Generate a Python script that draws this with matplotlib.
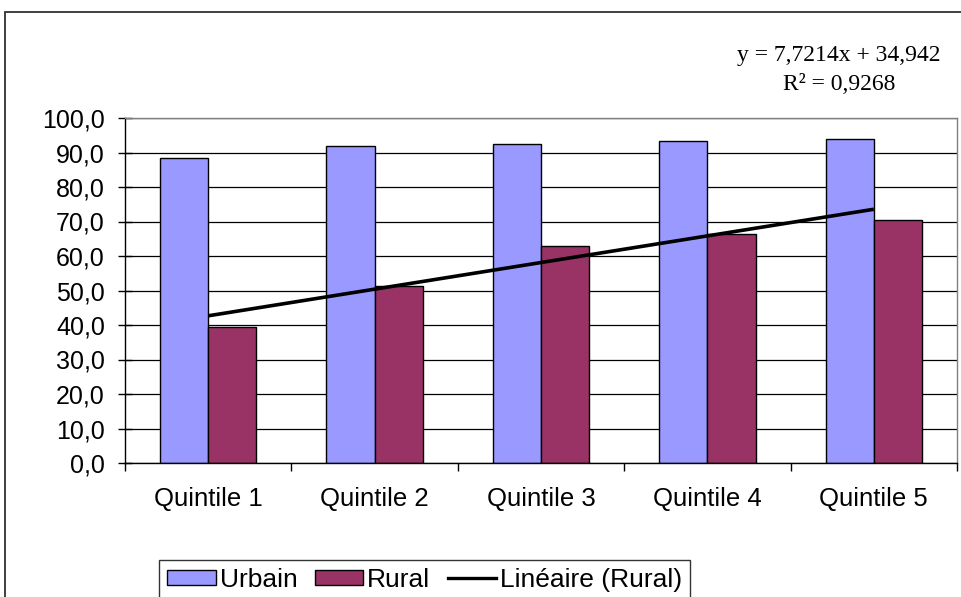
import matplotlib
matplotlib.use("Agg")
import matplotlib.pyplot as plt
import numpy as np
from matplotlib.patches import Rectangle, Patch
from matplotlib.lines import Line2D
from matplotlib.ticker import FuncFormatter, FixedLocator

categories = ["Quintile 1", "Quintile 2", "Quintile 3", "Quintile 4", "Quintile 5"]
urbain = [88.4, 91.8, 92.4, 93.4, 94.0]
rural = [39.5, 51.3, 63.0, 66.4, 70.5]
trend_slope = 7.7214
trend_intercept = 34.942
r_squared = "0,9268"
yticks = [0, 10, 20, 30, 40, 50, 60, 70, 80, 90, 100]

plt.rcParams['font.family'] = ['Liberation Sans', 'DejaVu Sans']

W, H = 961, 597
fig = plt.figure(figsize=(W / 100, H / 100), dpi=100)
ax = fig.add_axes([125 / W, 1 - 463 / H, (957 - 125) / W, (463 - 118) / H])

x = np.arange(len(categories))
bw = 0.29
ax.bar(x - bw / 2, urbain, width=bw, color='#9999FF', edgecolor='black', linewidth=1.0, zorder=2, label='Urbain')
ax.bar(x + bw / 2, rural, width=bw, color='#993366', edgecolor='black', linewidth=1.0, zorder=2, label='Rural')

xt = np.array([x[0], x[-1]])
yt = trend_intercept + trend_slope * (xt + 1)
ax.plot(xt, yt, color='black', linewidth=2.6, zorder=3, solid_capstyle='butt')

ax.set_xlim(-0.5, len(categories) - 0.5)
ax.set_ylim(0, 100)
ax.set_yticks(yticks)
ax.yaxis.set_major_formatter(FuncFormatter(lambda v, p: f"{v:.1f}".replace('.', ',')))
ax.grid(axis='y', color='black', linewidth=0.9, zorder=0)
ax.set_axisbelow(True)

ax.xaxis.set_major_locator(FixedLocator(np.arange(-0.5, len(categories), 1.0)))
ax.xaxis.set_minor_locator(FixedLocator(x))
ax.set_xticklabels([], minor=False)
ax.set_xticklabels(categories, minor=True)
ax.tick_params(axis='x', which='major', direction='out', length=5.5, width=1.0, color='black')
ax.tick_params(axis='x', which='minor', length=0, pad=17, labelsize=18.5)
ax.tick_params(axis='y', which='major', direction='inout', length=10, width=1.0, pad=9.5, labelsize=18)

for s in ['top', 'right']:
    ax.spines[s].set_color('#808080')
    ax.spines[s].set_linewidth(1.0)
for s in ['left', 'bottom']:
    ax.spines[s].set_color('black')
    ax.spines[s].set_linewidth(1.0)

# outer chart frame (cut off at right and bottom)
top = 1 - 12 / H
fig.patches.append(Rectangle((5 / W, -0.2), 1.2, top + 0.2, transform=fig.transFigure,
                             fill=False, edgecolor='#303030', linewidth=1.3))

fig.text(839 / W, 1 - 56 / H, f"y = {trend_slope:.4f}x + {trend_intercept:.3f}".replace('.', ','),
         ha='center', va='center', fontsize=17, family=['Liberation Serif', 'DejaVu Serif'])
fig.text(839 / W, 1 - 85 / H, f"R² = {r_squared}",
         ha='center', va='center', fontsize=17, family=['Liberation Serif', 'DejaVu Serif'])

handles = [Patch(facecolor='#9999FF', edgecolor='black', linewidth=1.0),
           Patch(facecolor='#993366', edgecolor='black', linewidth=1.0),
           Line2D([0], [0], color='black', linewidth=2.4)]
labels = ['Urbain', 'Rural', 'Linéaire (Rural)']
leg = fig.legend(handles, labels, loc='upper left', bbox_to_anchor=(159 / W, 1 - 560 / H), ncol=3,
                 frameon=True, fancybox=False, edgecolor='black', fontsize=19,
                 handlelength=1.85, handleheight=0.5, handletextpad=0.15, columnspacing=0.65,
                 borderaxespad=0, borderpad=0.3)
leg.get_frame().set_linewidth(1.0)

fig.savefig('out.png', dpi=100)
